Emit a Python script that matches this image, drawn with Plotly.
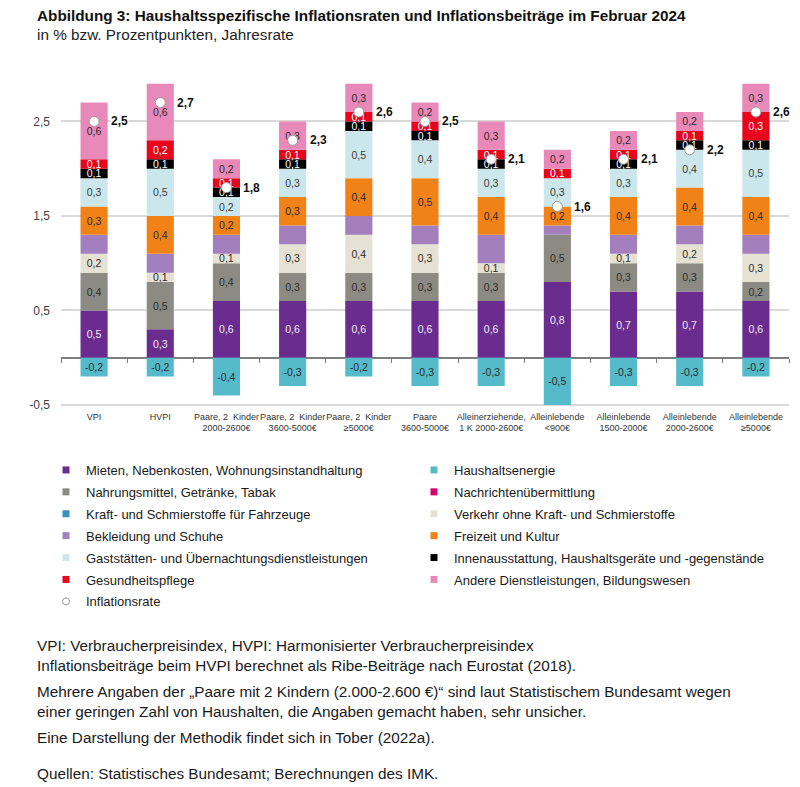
import plotly.graph_objects as go

# ---------------- data ----------------
categories = [
    "VPI",
    "HVPI",
    "Paare, 2  Kinder<br>2000-2600€",
    "Paare, 2  Kinder<br>3600-5000€",
    "Paare, 2  Kinder<br>≥5000€",
    "Paare<br>3600-5000€",
    "Alleinerziehende,<br>1 K 2000-2600€",
    "Alleinlebende<br>&lt;900€",
    "Alleinlebende<br>1500-2000€",
    "Alleinlebende<br>2000-2600€",
    "Alleinlebende<br>≥5000€",
]

mieten       = [0.5, 0.3, 0.6, 0.6, 0.6, 0.6, 0.6, 0.8, 0.7, 0.7, 0.6]
energie      = [-0.2, -0.2, -0.4, -0.3, -0.2, -0.3, -0.3, -0.5, -0.3, -0.3, -0.2]
nahrung      = [0.4, 0.5, 0.4, 0.3, 0.3, 0.3, 0.3, 0.5, 0.3, 0.3, 0.2]
nachrichten  = [0.0, 0.0, 0.0, 0.0, 0.0, 0.0, 0.0, 0.0, 0.0, 0.0, 0.0]
kraftstoffe  = [0.0, 0.0, 0.0, 0.0, 0.0, 0.0, 0.0, 0.0, 0.0, 0.0, 0.0]
verkehr      = [0.2, 0.1, 0.1, 0.3, 0.4, 0.3, 0.1, 0.0, 0.1, 0.2, 0.3]
bekleidung   = [0.2, 0.2, 0.2, 0.2, 0.2, 0.2, 0.3, 0.1, 0.2, 0.2, 0.2]
freizeit     = [0.3, 0.4, 0.2, 0.3, 0.4, 0.5, 0.4, 0.2, 0.4, 0.4, 0.4]
gaststaetten = [0.3, 0.5, 0.2, 0.3, 0.5, 0.4, 0.3, 0.3, 0.3, 0.4, 0.5]
innen        = [0.1, 0.1, 0.1, 0.1, 0.1, 0.1, 0.1, 0.0, 0.1, 0.1, 0.1]
gesundheit   = [0.1, 0.2, 0.1, 0.1, 0.1, 0.1, 0.1, 0.1, 0.1, 0.1, 0.3]
andere       = [0.6, 0.6, 0.2, 0.3, 0.3, 0.2, 0.3, 0.2, 0.2, 0.2, 0.3]
inflationsrate = [2.5, 2.7, 1.8, 2.3, 2.6, 2.5, 2.1, 1.6, 2.1, 2.2, 2.6]

y_tickvals = [-0.5, 0.5, 1.5, 2.5]
y_ticktext = ["-0,5", "0,5", "1,5", "2,5"]

# ---------------- styles ----------------
# (name, values, color, label colour or None, legend column)
series = [
    ("Mieten, Nebenkosten, Wohnungsinstandhaltung", mieten, "#6B2C8F", "#F2ECF6", 1),
    ("Haushaltsenergie", energie, "#55BBCB", "#2B2B2B", 2),
    ("Nahrungsmittel, Getränke, Tabak", nahrung, "#8C8B83", "#2B2B2B", 1),
    ("Nachrichtenübermittlung", nachrichten, "#D6006E", "#FFFFFF", 2),
    ("Kraft- und Schmierstoffe für Fahrzeuge", kraftstoffe, "#3A91C2", "#FFFFFF", 1),
    ("Verkehr ohne Kraft- und Schmierstoffe", verkehr, "#E6E2D3", "#2B2B2B", 2),
    ("Bekleidung und Schuhe", bekleidung, "#A37FBE", None, 1),
    ("Freizeit und Kultur", freizeit, "#F08218", "#2B2B2B", 2),
    ("Gaststätten- und Übernachtungsdienstleistungen", gaststaetten, "#CBE7EC", "#3A3A3A", 1),
    ("Innenausstattung, Haushaltsgeräte und -gegenstände", innen, "#000000", "#FFFFFF", 2),
    ("Gesundheitspflege", gesundheit, "#E8041C", "#FFFFFF", 1),
    ("Andere Dienstleistungen, Bildungswesen", andere, "#E889BA", "#2B2B2B", 2),
]

FONT = "Liberation Sans, Arial, sans-serif"
OFF = 8                      # page body margin of the html page
W, H = 800 - OFF, 787 - OFF
plot_left, plot_right = 61, 789
plot_top, plot_bottom = 74.2, 409.7
y_min, y_max = -0.55, 3.0


def fmt(v):
    return f"{v:.1f}".replace(".", ",")


def px(x):
    return (x - OFF) / W


def py(y):
    return 1 - (y - OFF) / H


fig = go.Figure()

for name, vals, color, tcol, col in series:
    texts = [fmt(v) if (tcol is not None and abs(v) > 1e-9) else "" for v in vals]
    fig.add_trace(go.Bar(
        x=categories, y=vals, name=name,
        marker=dict(color=color, line=dict(width=0)),
        text=texts, textposition="inside", insidetextanchor="middle",
        textangle=0, constraintext="none",
        textfont=dict(family=FONT, size=10.5, color=tcol or "#000"),
        showlegend=False, hoverinfo="skip",
    ))

fig.add_trace(go.Scatter(
    x=categories, y=inflationsrate, mode="markers", name="Inflationsrate",
    marker=dict(color="white", size=10, line=dict(color="#9A9A9A", width=1)),
    showlegend=False, cliponaxis=False, hoverinfo="skip"))

# legend entries (column 1 incl. rate, then column 2)
for name, vals, color, tcol, col in series:
    if col == 1:
        fig.add_trace(go.Scatter(
            x=[None], y=[None], mode="markers", name=name,
            marker=dict(symbol="square", size=7, color=color),
            legend="legend", legendgroup=name, hoverinfo="skip"))
fig.add_trace(go.Scatter(
    x=[None], y=[None], mode="markers", name="Inflationsrate",
    marker=dict(symbol="circle", size=7, color="white", line=dict(color="#9A9A9A", width=1)),
    legend="legend", legendgroup="Inflationsrate", hoverinfo="skip"))
for name, vals, color, tcol, col in series:
    if col == 2:
        fig.add_trace(go.Scatter(
            x=[None], y=[None], mode="markers", name=name,
            marker=dict(symbol="square", size=7, color=color),
            legend="legend2", legendgroup=name, hoverinfo="skip"))

# helper trace so that the tick-mark axis on the zero line is drawn
fig.add_trace(go.Scatter(x=[None], y=[None], xaxis="x2", yaxis="y",
                         showlegend=False, hoverinfo="skip"))

x_dom = [px(plot_left), px(plot_right)]
y_dom = [py(plot_bottom), py(plot_top)]
zero_pos = y_dom[0] + (0 - y_min) / (y_max - y_min) * (y_dom[1] - y_dom[0])

annotations = []
for c, r in zip(categories, inflationsrate):
    annotations.append(dict(
        x=c, y=r, xref="x", yref="y", text=f"<b>{fmt(r)}</b>", showarrow=False,
        xanchor="left", yanchor="middle", xshift=16, bgcolor="white", borderpad=0,
        font=dict(family=FONT, size=12, color="#111111")))

annotations.append(dict(
    x=px(35), y=py(16), xref="paper", yref="paper", xanchor="left", yanchor="middle",
    text="<b>Abbildung 3: Haushaltsspezifische Inflationsraten und Inflationsbeiträge im Februar 2024</b>",
    showarrow=False, font=dict(family=FONT, size=15.3, color="#111111")))
annotations.append(dict(
    x=px(35), y=py(34), xref="paper", yref="paper", xanchor="left", yanchor="middle",
    text="in % bzw. Prozentpunkten, Jahresrate",
    showarrow=False, font=dict(family=FONT, size=15.3, color="#222222")))

footnotes = [
    ("VPI: Verbraucherpreisindex, HVPI: Harmonisierter Verbraucherpreisindex", 645),
    ("Inflationsbeiträge beim HVPI berechnet als Ribe-Beiträge nach Eurostat (2018).", 665),
    ("Mehrere Angaben der „Paare mit 2 Kindern (2.000-2.600 €)“ sind laut Statistischem Bundesamt wegen", 691),
    ("einer geringen Zahl von Haushalten, die Angaben gemacht haben, sehr unsicher.", 711),
    ("Eine Darstellung der Methodik findet sich in Tober (2022a).", 737),
    ("Quellen: Statistisches Bundesamt; Berechnungen des IMK.", 773),
]
for txt, ypix in footnotes:
    annotations.append(dict(
        x=px(35), y=py(ypix), xref="paper", yref="paper", xanchor="left", yanchor="middle",
        text=txt, showarrow=False, font=dict(family=FONT, size=15.3, color="#1A1A1A")))

legend_common = dict(
    xanchor="left", yanchor="top", orientation="v",
    font=dict(family=FONT, size=13, color="#1A1A1A"),
    traceorder="grouped", tracegroupgap=2, bgcolor="rgba(0,0,0,0)",
    itemclick=False, itemdoubleclick=False,
)

fig.update_layout(
    width=W, height=H,
    margin=dict(l=0, r=0, t=0, b=0),
    paper_bgcolor="white", plot_bgcolor="white",
    barmode="relative", bargap=0.59,
    separators=",.",
    font=dict(family=FONT, color="#333333"),
    uniformtext=dict(minsize=10.5, mode="show"),
    xaxis=dict(
        domain=x_dom, type="category", range=[-0.5, len(categories) - 0.5],
        showgrid=False, zeroline=False, showline=False, ticks="",
        tickangle=0, tickfont=dict(family=FONT, size=9, color="#333333"),
        automargin=False, fixedrange=True,
    ),
    xaxis2=dict(
        overlaying="x", anchor="free", position=zero_pos,
        range=[-0.5, len(categories) - 0.5],
        tickmode="array", tickvals=[i - 0.5 for i in range(len(categories) + 1)],
        ticks="outside", ticklen=4, tickwidth=1, tickcolor="#7F7F7F",
        showticklabels=False, showgrid=False, zeroline=False, showline=False,
        fixedrange=True,
    ),
    yaxis=dict(
        domain=y_dom, range=[y_min, y_max],
        tickmode="array", tickvals=y_tickvals, ticktext=y_ticktext,
        showgrid=True, gridcolor="#D9D9D9", gridwidth=1.5,
        zeroline=True, zerolinecolor="#7F7F7F", zerolinewidth=1.5,
        ticks="", ticklabelstandoff=10,
        tickfont=dict(family=FONT, size=12, color="#404040"),
        automargin=False, fixedrange=True,
    ),
    legend=dict(x=px(46), y=py(455), **legend_common),
    legend2=dict(x=px(414), y=py(455), **legend_common),
    annotations=annotations,
)

fig.write_html("out.html")
